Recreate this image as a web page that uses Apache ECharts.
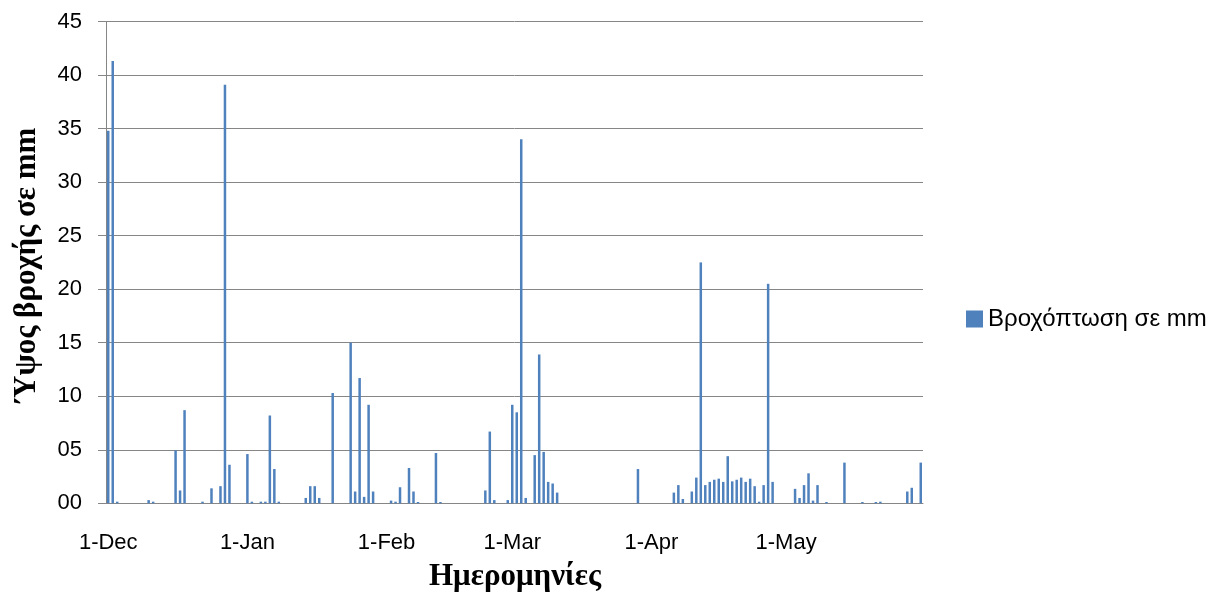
<!DOCTYPE html>
<html>
<head>
<meta charset="utf-8">
<script src="https://cdn.jsdelivr.net/npm/echarts@6/dist/echarts.min.js"></script>
<style>html,body{margin:0;padding:0;background:#fff}#c{width:1215px;height:598px}</style>
</head>
<body>
<div id="c"></div>
<script>
const months = [["Dec", 31], ["Jan", 31], ["Feb", 28], ["Mar", 31], ["Apr", 30], ["May", 31]];
const rainDates = ["1-Dec","2-Dec","3-Dec","10-Dec","11-Dec","16-Dec","17-Dec","18-Dec","22-Dec","24-Dec","26-Dec","27-Dec","28-Dec",
  "1-Jan","2-Jan","4-Jan","5-Jan","6-Jan","7-Jan","8-Jan","14-Jan","15-Jan","16-Jan","17-Jan","20-Jan","24-Jan","25-Jan","26-Jan","27-Jan","28-Jan","29-Jan",
  "2-Feb","3-Feb","4-Feb","6-Feb","7-Feb","8-Feb","12-Feb","13-Feb","23-Feb","24-Feb","25-Feb","28-Feb",
  "1-Mar","2-Mar","3-Mar","4-Mar","6-Mar","7-Mar","8-Mar","9-Mar","10-Mar","11-Mar","29-Mar",
  "6-Apr","7-Apr","8-Apr","10-Apr","11-Apr","12-Apr","13-Apr","14-Apr","15-Apr","16-Apr","17-Apr","18-Apr","19-Apr","20-Apr","21-Apr","22-Apr","23-Apr","24-Apr","25-Apr","26-Apr","27-Apr","28-Apr",
  "3-May","4-May","5-May","6-May","7-May","8-May","10-May","14-May","18-May","21-May","22-May","28-May","29-May","31-May"];
const rainValues = [34.8,41.3,0.15,0.3,0.15,4.95,1.2,8.7,0.15,1.4,1.6,39.1,3.6,
  4.6,0.15,0.15,0.15,8.2,3.2,0.15,0.5,1.6,1.6,0.5,10.3,15.0,1.1,11.7,0.6,9.2,1.1,
  0.25,0.15,1.5,3.3,1.1,0.12,4.7,0.12,1.2,6.7,0.3,0.3,
  9.2,8.5,34.0,0.5,4.5,13.9,4.8,2.0,1.85,1.0,3.2,
  1.0,1.7,0.4,1.1,2.4,22.5,1.7,2.0,2.2,2.3,2.0,4.4,2.05,2.2,2.4,2.0,2.3,1.6,0.15,1.7,20.5,2.0,
  1.35,0.5,1.7,2.8,0.25,1.7,0.12,3.8,0.12,0.12,0.15,1.1,1.45,3.8];
const yTicks = ["00","05","10","15","20","25","30","35","40","45"];
const xTitle = 'Ημερομηνίες';
const yTitle = 'Ύψος βροχής σε mm';
const seriesName = 'Βροχόπτωση σε mm';

const categories = [];
months.forEach(([m, n]) => { for (let d = 1; d <= n; d++) categories.push(d + "-" + m); });
const lookup = {};
rainDates.forEach((d, i) => { lookup[d] = rainValues[i]; });
const seriesData = categories.map(c => (c in lookup ? lookup[c] : 0));

const chart = echarts.init(document.getElementById('c'), null, {renderer: 'canvas'});
const gray = '#868686';
const titleFont = {fontFamily: 'Liberation Serif', fontWeight: 'bold', fontSize: 31, fill: '#000'};
chart.setOption({
  animation: false,
  grid: {left: 106, right: 292, top: 21.5, bottom: 94.7, containLabel: false, outerBoundsMode: 'none'},
  legend: {
    data: [seriesName],
    left: 961, top: 302, icon: 'rect', itemWidth: 17, itemHeight: 17, itemGap: 6,
    textStyle: {fontFamily: 'Liberation Sans', fontSize: 24, color: '#000'}
  },
  graphic: [
    {type: 'text', x: 515, y: 577, style: Object.assign({text: xTitle, align: 'center', verticalAlign: 'middle'}, titleFont)},
    {type: 'text', x: 27, y: 265, rotation: Math.PI / 2, style: Object.assign({text: yTitle, align: 'center', verticalAlign: 'middle'}, titleFont)}
  ],
  xAxis: {
    type: 'category', data: categories, boundaryGap: true,
    axisLine: {lineStyle: {color: gray, width: 1}},
    axisTick: {show: false},
    axisLabel: {
      interval: (i, v) => v.split('-')[0] === '1',
      fontFamily: 'Liberation Sans', fontSize: 22, color: '#000', margin: 29
    }
  },
  yAxis: {
    type: 'value', min: 0, max: 45, interval: 5,
    axisLine: {show: true, lineStyle: {color: gray, width: 1}},
    axisTick: {show: true, length: 8, lineStyle: {color: gray}},
    splitLine: {lineStyle: {color: gray, width: 1}},
    axisLabel: {
      formatter: v => yTicks[Math.round(v / 5)],
      fontFamily: 'Liberation Sans', fontSize: 22, color: '#000', margin: 24
    }
  },
  series: [{
    name: seriesName, type: 'bar', data: seriesData,
    barWidth: 2.5, itemStyle: {color: '#4F81BD'}
  }]
});
</script>
</body>
</html>
